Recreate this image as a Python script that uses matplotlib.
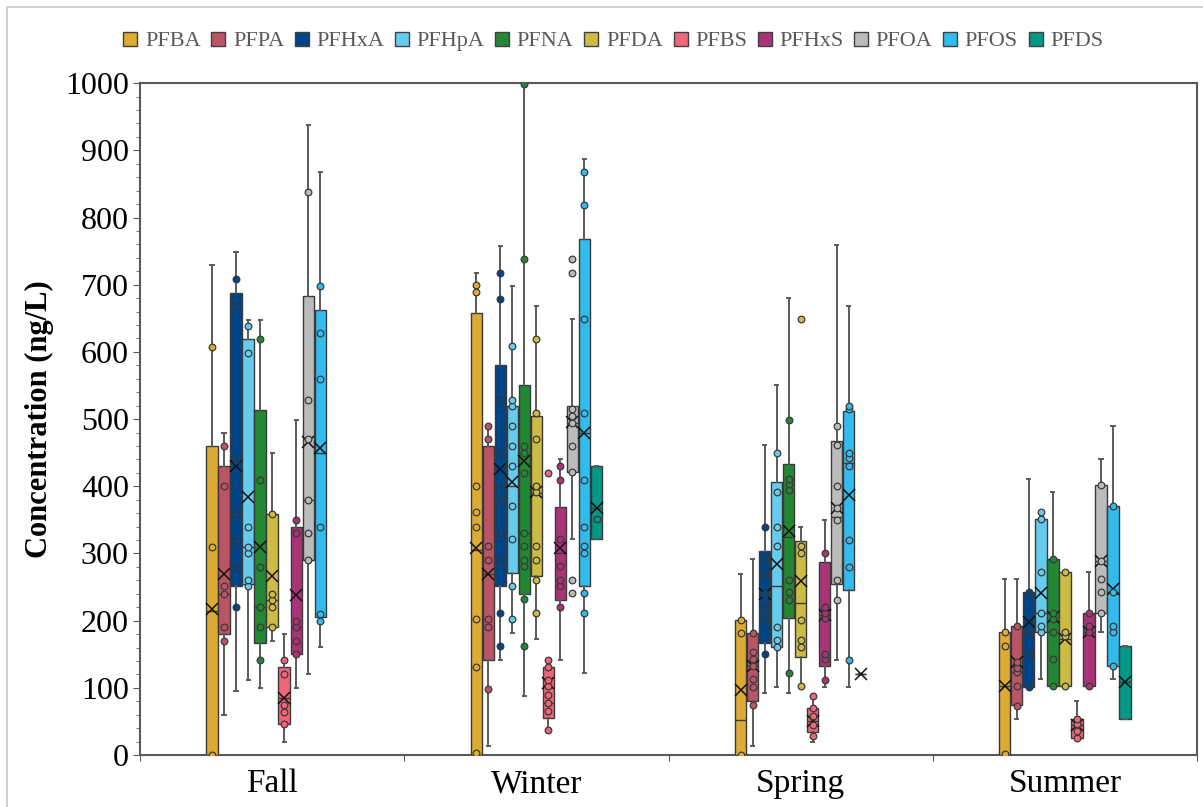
import numpy as np
import matplotlib
matplotlib.use("Agg")
import matplotlib.pyplot as plt
from matplotlib.lines import Line2D
from matplotlib.patches import Rectangle
from matplotlib.ticker import MultipleLocator, FixedLocator

plt.rcParams['font.family'] = ['Liberation Serif', 'DejaVu Serif']

seasons = ['Fall', 'Winter', 'Spring', 'Summer']
compounds = ['PFBA', 'PFPA', 'PFHxA', 'PFHpA', 'PFNA', 'PFDA',
             'PFBS', 'PFHxS', 'PFOA', 'PFOS', 'PFDS']
colors = ['#DDAA33', '#BB5566', '#004488', '#66CCEE', '#228833', '#CCBB44',
          '#EE6677', '#AA3377', '#BBBBBB', '#33BBEE', '#009988']

# box statistics, one row per season, one column per compound (None = not detected)
whislo = [
    [0, 60, 96, 111, 100, 170, 20, 100, 121, 161, None],
    [0, 13, 142, 182, 88, 172, 37, 142, 321, 122, 321],
    [0, 13, 93, 101, 92, 100, 20, 101, 141, 101, 120],
    [0, 54, 101, 113, 103, 103, 26, 103, 183, 113, 54],
]
q1 = [
    [0, 180, 251, 255, 166, 191, 46, 151, 290, 205, None],
    [0, 142, 251, 271, 240, 266, 55, 231, 421, 251, 321],
    [0, 80, 166, 161, 204, 146, 35, 133, 254, 246, 120],
    [0, 74, 101, 183, 103, 103, 26, 103, 212, 133, 54],
]
med = [
    [215, 240, 360, 310, 220, 231, 85, 191, 380, 450, None],
    [305, 270, 400, 400, 330, 390, 78, 300, 494, 479, 367],
    [52, 133, 211, 251, 324, 226, 50, 209, 355, 435, 120],
    [103, 123, 183, 212, 183, 173, 44, 183, 289, 242, 108],
]
q3 = [
    [460, 430, 688, 619, 514, 359, 131, 340, 683, 663, None],
    [658, 460, 580, 520, 550, 505, 131, 369, 520, 768, 430],
    [201, 181, 303, 406, 433, 318, 70, 287, 468, 512, 120],
    [183, 192, 242, 351, 292, 273, 54, 212, 402, 371, 163],
]
whishi = [
    [729, 479, 748, 647, 647, 449, 180, 498, 938, 867, None],
    [718, 490, 758, 698, 999, 669, 142, 440, 649, 887, 430],
    [270, 292, 462, 550, 680, 340, 88, 350, 759, 669, 120],
    [262, 262, 411, 361, 391, 273, 81, 272, 440, 490, 163],
]
means = [
    [218, 270, 430, 384, 310, 266, 85, 238, 466, 457, None],
    [308, 270, 426, 406, 437, 391, 107, 308, 495, 479, 367],
    [97, 133, 239, 284, 334, 259, 50, 209, 367, 387, 120],
    [103, 138, 198, 241, 205, 173, 44, 183, 289, 247, 108],
]

# individual samples shown as dots
pts_fall = [
    [0, 310, 608],
    [170, 191, 240, 252, 400, 460],
    [220, 280, 319, 359, 439, 669, 708],
    [251, 261, 301, 310, 340, 599, 638],
    [141, 191, 220, 280, 409, 619],
    [191, 220, 231, 240, 359],
    [46, 64, 74, 121, 141],
    [151, 170, 191, 200, 330, 350],
    [290, 330, 380, 470, 529, 838],
    [200, 210, 340, 559, 628, 698],
    [],
]
pts_winter = [
    [3, 131, 202, 340, 361, 400, 689, 699],
    [99, 191, 202, 291, 311, 470, 490],
    [162, 211, 291, 330, 380, 450, 529, 678, 718],
    [202, 251, 321, 371, 430, 460, 490, 520, 529, 609],
    [162, 232, 281, 291, 311, 330, 420, 450, 460, 738, 999],
    [211, 261, 291, 311, 391, 400, 470, 509, 619],
    [37, 66, 78, 90, 102, 112, 131, 142, 420],
    [221, 251, 261, 282, 321, 410, 430],
    [241, 261, 421, 460, 494, 505, 515, 718, 738],
    [211, 241, 300, 311, 340, 410, 509, 649, 818, 867],
    [351],
]
pts_spring = [
    [0, 181, 201],
    [75, 101, 113, 133, 143, 153, 181],
    [151, 201, 221, 239, 270, 292, 340],
    [161, 171, 191, 311, 340, 391, 450],
    [122, 231, 243, 260, 395, 404, 411, 499],
    [102, 161, 171, 201, 300, 311, 649],
    [28, 45, 58, 70, 88],
    [112, 143, 151, 204, 211, 221, 300],
    [231, 260, 350, 367, 401, 461, 490],
    [142, 280, 320, 430, 442, 450, 515, 520],
    [],
]
pts_summer = [
    [2, 163, 183],
    [73, 103, 123, 130, 138, 192],
    [101, 152, 183, 242],
    [183, 192, 212, 272, 351, 361],
    [103, 143, 183, 202, 212, 292],
    [103, 177, 183, 273],
    [26, 36, 46, 54],
    [103, 183, 192, 212],
    [212, 242, 262, 289, 402],
    [133, 183, 192, 242, 371],
    [],
]
points = [pts_fall, pts_winter, pts_spring, pts_summer]

fig = plt.figure(figsize=(12.03, 8.07), dpi=100)
ax = fig.add_axes([0.1164, 0.0644, 0.8786, 0.8326])

# light frame around the whole figure
fig.patches.append(Rectangle((7 / 1203, -0.05), 1.1, 1.05 - 7 / 807,
                             transform=fig.transFigure, fill=False,
                             edgecolor='#c8c8c8', lw=1.2, zorder=0))

step = 0.0455
width = 0.043
edge = '#3a3a3a'

for s in range(len(seasons)):
    for c in range(len(compounds)):
        if q1[s][c] is None:
            continue
        pos = s + 1 + (c - 5) * step
        stats = [dict(whislo=whislo[s][c], q1=q1[s][c], med=med[s][c],
                      q3=q3[s][c], whishi=whishi[s][c], mean=means[s][c],
                      fliers=[])]
        ax.bxp(stats, positions=[pos], widths=width, capwidths=0.012,
               patch_artist=True, showmeans=True, showfliers=False,
               boxprops=dict(facecolor=colors[c], edgecolor=edge, lw=1.0),
               medianprops=dict(color=edge, lw=1.0),
               whiskerprops=dict(color='#5a5a5a', lw=1.4),
               capprops=dict(color='#5a5a5a', lw=1.4),
               meanprops=dict(marker='x', markeredgecolor='#111111',
                              markersize=9, markeredgewidth=1.1),
               manage_ticks=False, zorder=3)
        vals = points[s][c]
        if vals:
            ax.plot([pos] * len(vals), vals, 'o', ms=4.8, mfc=colors[c],
                    mec=edge, mew=0.9, ls='none', zorder=4)

ax.set_xlim(0.5, 4.5)
ax.set_ylim(0, 1000)

# season names centred, ticks on the group boundaries
ax.xaxis.set_major_locator(FixedLocator([0.5, 1.5, 2.5, 3.5, 4.5]))
ax.xaxis.set_minor_locator(FixedLocator([1, 2, 3, 4]))
ax.set_xticklabels([])
ax.set_xticklabels(seasons, minor=True)
ax.tick_params(axis='x', which='minor', length=0, pad=10, labelsize=24)
ax.tick_params(axis='x', which='major', length=4, color='#595959')

ax.yaxis.set_major_locator(MultipleLocator(100))
ax.yaxis.set_minor_locator(MultipleLocator(20))
ax.tick_params(axis='y', which='major', length=5, labelsize=23,
               color='#595959', pad=3)
ax.tick_params(axis='y', which='minor', length=3, color='#595959')

for sp in ax.spines.values():
    sp.set_color('#595959')
    sp.set_linewidth(1.5)

ax.set_ylabel('Concentration (ng/L)', fontsize=22, fontweight='bold',
              labelpad=8)

handles = [Line2D([], [], marker='s', ls='none', ms=10, mfc=col,
                  mec='#404040', mew=1.0) for col in colors]
fig.legend(handles, compounds, loc='center', bbox_to_anchor=(0.51, 0.949),
           ncol=len(compounds), frameon=False, fontsize=16,
           handlelength=0.6, handletextpad=0.35, columnspacing=0.5,
           borderaxespad=0, labelcolor='#595959')

fig.savefig('out.png', dpi=100)
